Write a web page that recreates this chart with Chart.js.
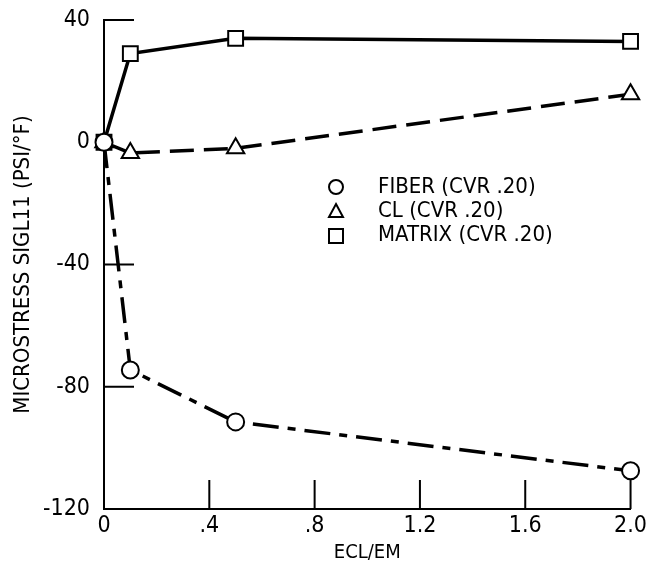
<!DOCTYPE html>
<html>
<head>
<meta charset="utf-8">
<script src="https://cdn.jsdelivr.net/npm/chart.js@4/dist/chart.umd.min.js"></script>
<style>
  html, body { margin: 0; padding: 0; background: #fff; }
  #wrap { width: 650px; height: 565px; position: relative; }
</style>
</head>
<body>
<div id="wrap"><canvas id="chart"></canvas></div>
<script>
        // values
        let ecl_em = [0, 0.1, 0.5, 2.0];
        let fiber_vals = [0, -74.5, -91.5, -107.5];
        let cl_vals = [0, -3.5, -2, 15.7];
        let matrix_vals = [0, 29, 34, 33];
        let x_tick_vals = [0, 0.4, 0.8, 1.2, 1.6, 2.0];
        let x_tick_labels = ['0', '.4', '.8', '1.2', '1.6', '2.0'];
        let y_tick_vals = [-120, -80, -40, 0, 40];
        let series_names = ['FIBER (CVR .20)', 'CL (CVR .20)', 'MATRIX (CVR .20)'];

        let font_family = '"DejaVu Sans Condensed", "DejaVu Sans", sans-serif';

        function pts(vals){
            return ecl_em.map((x, i) => ({x: x, y: vals[i]}));
        }

        // inward tick marks like the original plot
        let inner_ticks = {
            id: 'inner_ticks',
            beforeDatasetsDraw(chart){
                let ctx = chart.ctx;
                let xs = chart.scales.x, ys = chart.scales.y;
                let area = chart.chartArea;
                ctx.save();
                ctx.strokeStyle = '#000';
                ctx.lineWidth = 2;
                ctx.beginPath();
                y_tick_vals.forEach(v => {
                    if(v == -120 || v == 0) return;
                    let py = ys.getPixelForValue(v);
                    ctx.moveTo(area.left, py);
                    ctx.lineTo(area.left + 30, py);
                });
                x_tick_vals.forEach(v => {
                    if(v == 0) return;
                    let px = xs.getPixelForValue(v);
                    ctx.moveTo(px, area.bottom);
                    ctx.lineTo(px, area.bottom - 29);
                });
                ctx.stroke();
                ctx.restore();
            }
        };

        // legend drawn inside the plot area
        let inner_legend = {
            id: 'inner_legend',
            afterDraw(chart){
                let ctx = chart.ctx;
                let x0 = 336, y0 = 187, dy = 24;
                ctx.save();
                ctx.strokeStyle = '#000';
                ctx.fillStyle = '#fff';
                ctx.lineWidth = 2;
                // circle
                ctx.beginPath();
                ctx.arc(x0, y0, 7, 0, Math.PI * 2);
                ctx.fill(); ctx.stroke();
                // triangle
                ctx.beginPath();
                ctx.moveTo(x0, y0 + dy - 7);
                ctx.lineTo(x0 + 7, y0 + dy + 6);
                ctx.lineTo(x0 - 7, y0 + dy + 6);
                ctx.closePath();
                ctx.fill(); ctx.stroke();
                // square
                ctx.beginPath();
                ctx.rect(x0 - 7, y0 + 2 * dy - 6, 14, 14);
                ctx.fill(); ctx.stroke();
                ctx.fillStyle = '#000';
                ctx.font = '22px ' + font_family;
                ctx.textBaseline = 'middle';
                series_names.forEach((n, i) => {
                    ctx.fillText(n, 378, y0 + i * dy);
                });
                ctx.restore();
            }
        };

        let ds_common = {
            borderColor: '#000',
            borderWidth: 3.5,
            pointBackgroundColor: '#fff',
            pointBorderColor: '#000',
            pointBorderWidth: 2,
            pointRadius: 8.5,
            fill: false,
            tension: 0,
            clip: false
        };

        let micro_chart = new Chart(document.getElementById('chart'), {
            type: 'line',
            data: {
                datasets: [
                    Object.assign({}, ds_common, {
                        label: series_names[0],
                        data: pts(fiber_vals),
                        pointStyle: 'circle',
                        borderDash: [26, 9, 8, 9]
                    }),
                    Object.assign({}, ds_common, {
                        label: series_names[1],
                        data: pts(cl_vals),
                        pointStyle: 'triangle',
                        pointRadius: 10,
                        borderDash: [24, 10]
                    }),
                    Object.assign({}, ds_common, {
                        label: series_names[2],
                        data: pts(matrix_vals),
                        pointStyle: 'rect',
                        pointRadius: 10.5
                    })
                ]
            },
            options: {
                responsive: true,
                maintainAspectRatio: false,
                animation: false,
                layout: { autoPadding: false, padding: { top: 20, right: 18, left: 6, bottom: 0 } },
                plugins: {
                    legend: { display: false },
                    tooltip: { enabled: false }
                },
                scales: {
                    x: {
                        type: 'linear',
                        min: 0,
                        max: 2.0,
                        afterBuildTicks: (s) => { s.ticks = x_tick_vals.map(v => ({value: v})); },
                        afterFit: (s) => { s.height = 56; },
                        grid: { display: true, drawOnChartArea: false, drawTicks: false },
                        border: { display: true, color: '#000', width: 2 },
                        ticks: {
                            color: '#000',
                            padding: 3,
                            font: { family: font_family, size: 23 },
                            callback: (v) => {
                                let i = x_tick_vals.indexOf(v);
                                return i >= 0 ? x_tick_labels[i] : '';
                            }
                        },
                        title: {
                            display: true,
                            text: 'ECL/EM',
                            color: '#000',
                            padding: { top: 0, bottom: 0 },
                            font: { family: font_family, size: 20 }
                        }
                    },
                    y: {
                        min: -120,
                        max: 40,
                        afterBuildTicks: (s) => { s.ticks = y_tick_vals.map(v => ({value: v})); },
                        afterFit: (s) => { s.width = 98; s.paddingTop = 0; s.paddingBottom = 0; },
                        grid: { display: true, drawOnChartArea: false, drawTicks: false },
                        border: { display: true, color: '#000', width: 2 },
                        ticks: {
                            color: '#000',
                            padding: 14,
                            font: { family: font_family, size: 23 }
                        },
                        title: {
                            display: true,
                            text: 'MICROSTRESS SIGL11 (PSI/°F)',
                            color: '#000',
                            padding: { top: 4, bottom: 4 },
                            font: { family: font_family, size: 22 }
                        }
                    }
                }
            },
            plugins: [inner_ticks, inner_legend]
        });
</script>
</body>
</html>
